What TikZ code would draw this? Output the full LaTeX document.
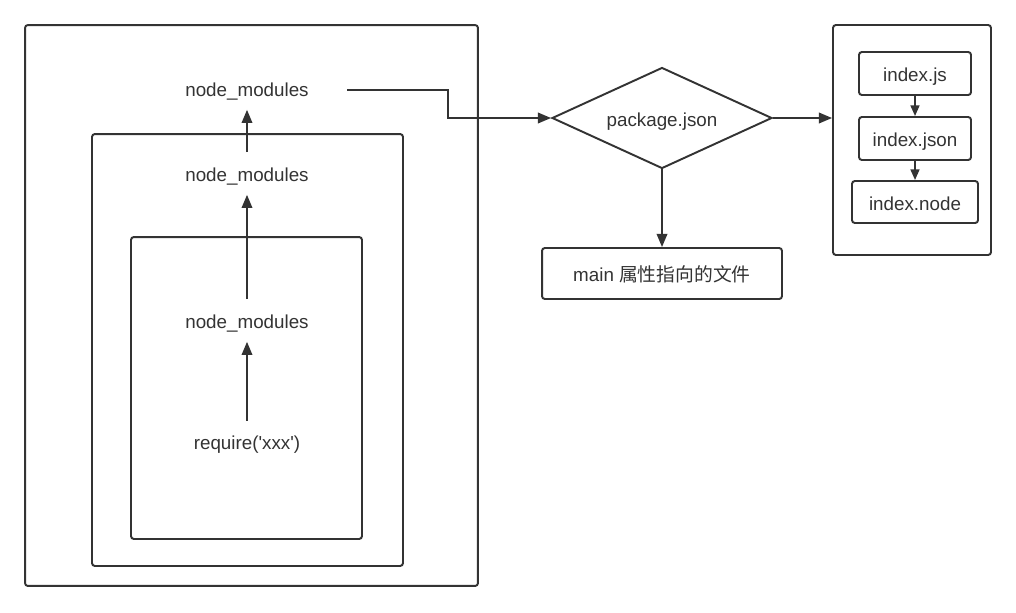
\documentclass[tikz,border=0pt]{standalone}
\usepackage{fontspec}
\setmainfont{Liberation Sans}
\newfontfamily\cjk{Noto Sans CJK SC}
\usepackage{tikz}
\usetikzlibrary{shapes.geometric}
\usetikzlibrary{arrows.meta}
\definecolor{ink}{HTML}{333333}
\tikzset{
  box/.style={draw=ink, line width=1.1pt, rounded corners=1.6pt, inner sep=0pt},
  lbl/.style={text=ink, inner sep=0pt, font=\fontsize{10.7}{13}\selectfont},
  tag/.style={box, lbl, text height=9.5pt, text depth=0pt},
  up/.style={draw=ink, line width=1.1pt, -{Triangle[length=7.5pt,width=6pt]}},
  hop/.style={up, -{Triangle[length=6pt,width=5pt]}}
}

\begin{document}
\begin{tikzpicture}[x=0.02cm, y=-0.02cm]
\useasboundingbox (0,0) rectangle (1016,612);
% folders, one inside the other
\node[box, minimum width=9.06cm, minimum height=11.22cm] (outer) at (251.5,305.5) {};
\node[box, minimum width=6.22cm, minimum height=8.64cm] (middle) at (247.5,350) {};
\node[box, minimum width=4.62cm, minimum height=6.04cm] (inner) at (246.5,388) {};
\node[lbl] (nm1) at (247,92) {node\_modules};
\node[lbl] (nm2) at (247,177) {node\_modules};
\node[lbl] (nm3) at (247,324) {node\_modules};
\node[lbl] (req) at (247,445) {require(\textquotesingle xxx\textquotesingle)};
\draw[up, shorten <=8.5pt, shorten >=5pt] (req) -- (nm3);
\draw[up, shorten <=9pt, shorten >=5pt] (nm3) -- (nm2);
\draw[up, shorten <=9pt, shorten >=5pt] (nm2) -- (nm1);
% package.json and what it points to
\node[tag, diamond, aspect=2.2, rounded corners=0pt, minimum width=4.4cm, minimum height=2.02cm] (pkg) at (662,118) {package.json};
\node[tag, minimum width=4.8cm, minimum height=1.02cm] (main) at (662,273.5) {main {\cjk 属性指向的文件}};
\draw[up] ([xshift=0.76cm, yshift=0.04cm]nm1.east) -- ++(101,0) |- (pkg.west);
\draw[up] (pkg.south) -- (main.north);
% fallback files
\node[box, minimum width=3.16cm, minimum height=4.6cm] (files) at (912,140) {};
\node[tag, minimum width=2.24cm, minimum height=0.86cm] (js) at (915,73.5) {index.js};
\node[tag, minimum width=2.24cm, minimum height=0.86cm] (json) at (915,138.5) {index.json};
\node[tag, minimum width=2.52cm, minimum height=0.84cm] (bin) at (915,202) {index.node};
\draw[up] (pkg.east) -- (pkg.east -| files.west);
\draw[hop] (js) -- (json);
\draw[hop] (json) -- (bin);
\end{tikzpicture}
\end{document}
